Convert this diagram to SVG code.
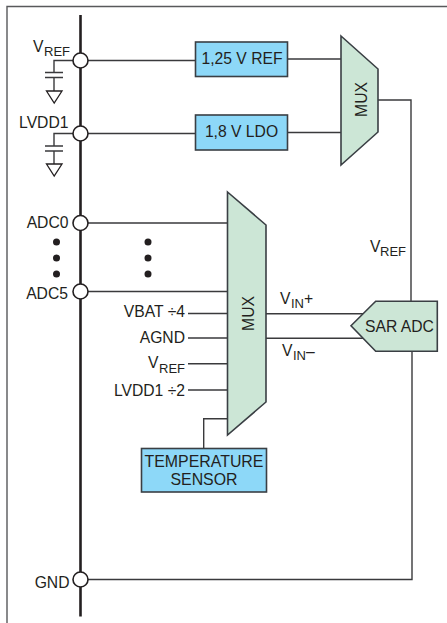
<svg xmlns="http://www.w3.org/2000/svg" width="447" height="623" viewBox="0 0 447 623">
<style>
text{font-family:"Liberation Sans",Arial,sans-serif;font-size:15.7px;fill:#231f20}
.e{text-anchor:end}.m{text-anchor:middle}
.sub{font-size:13px}
.big{font-size:15.9px}
.w{fill:none;stroke:#3a3a3c;stroke-width:1.4}
.blue{fill:#8dd8f8;stroke:#3a3f44;stroke-width:1.6}
.green{fill:#cce6d6;stroke:#3a3f44;stroke-width:1.6}
.pin{fill:#fff;stroke:#231f20;stroke-width:1.6}
.gnd{fill:#fff;stroke:#231f20;stroke-width:1.3}
</style>
<rect width="447" height="623" fill="#fff"/>
<path id="frame" d="M447 6.5H7V623" fill="none" stroke="#58595b" stroke-width="1.4"/>
<g id="connectors">
<path d="M80.5 15V616.5" fill="none" stroke="#231f20" stroke-width="2.6"/>
<path class="w" d="M80 60.5H195.5M80 133.5H195.5M287.5 59H341M287.5 132.5H341M378 100H411V301.5M80 223H227.5M80 291.5H227.5M188 313.5H227.5M188 338H227.5M188 363.7H227.5M188 390H227.5M266 313.7H364M266 338.3H364M80 579.5H412V351.5M203.7 448.5V418.7H227.5"/>
<path class="w" d="M73 60.5H54V72.5M45 72.5H63M45 77.5H63M54 77.5V91M73 133.5H54V146M45 146H63M45 151H63M54 151V164"/>
</g>
<g id="cap-vref"><path class="gnd" d="M46.5 91H62L54.2 103Z"/></g>
<g id="cap-lvdd1"><path class="gnd" d="M46.5 164H62L54.2 176Z"/></g>
<g id="pin-vref"><circle class="pin" cx="80.5" cy="60.5" r="7.5"/><text x="33" y="52">V</text><text class="sub" x="44" y="55.5">REF</text></g>
<g id="pin-lvdd1"><circle class="pin" cx="80.5" cy="133.5" r="7.5"/><text class="e" x="68.5" y="127.5">LVDD1</text></g>
<g id="pin-adc0"><circle class="pin" cx="80.5" cy="223" r="7.5"/><text class="e" x="68.5" y="228">ADC0</text></g>
<g id="pin-adc5"><circle class="pin" cx="80.5" cy="291.5" r="7.5"/><text class="e" x="68" y="299">ADC5</text></g>
<g id="pin-gnd"><circle class="pin" cx="80.5" cy="579.5" r="7.5"/><text class="e" x="69.5" y="587.5">GND</text></g>
<g id="dots" fill="#231f20"><circle cx="56.5" cy="242" r="3.5"/><circle cx="56.5" cy="258" r="3.5"/><circle cx="56.5" cy="274" r="3.5"/><circle cx="148" cy="242" r="3.5"/><circle cx="148" cy="258" r="3.5"/><circle cx="148" cy="274" r="3.5"/></g>
<g id="ref125"><rect class="blue" x="195.5" y="42" width="92" height="34.5"/><text class="m" x="242" y="64">1,25 V REF</text></g>
<g id="ldo18"><rect class="blue" x="195.5" y="115" width="92" height="35"/><text class="m" x="241.5" y="137">1,8 V LDO</text></g>
<g id="mux-top"><path class="green" d="M341 36L378 69V132L341 165Z"/><text class="m" transform="translate(366.5 99.5) rotate(-90)">MUX</text></g>
<g id="mux-main"><path class="green" d="M227.5 192L266 225V402L227.5 435Z"/><text class="m" transform="translate(254 313.5) rotate(-90)">MUX</text></g>
<g id="sar-adc"><path class="green" d="M351 325.7L375.7 301.3H437.3V351.3H375.7Z"/><text class="m" x="399.5" y="332">SAR ADC</text></g>
<g id="temp-sensor"><rect class="blue" x="141.5" y="448.5" width="125" height="43.5"/><text class="m big" x="204" y="466.7">TEMPERATURE</text><text class="m big" x="204" y="485">SENSOR</text></g>
<g id="labels">
<text class="e" x="185" y="317">VBAT ÷4</text>
<text class="e" x="185" y="343">AGND</text>
<text x="148" y="368">V</text><text class="sub" x="159" y="372.5">REF</text>
<text class="e" x="185" y="396">LVDD1 ÷2</text>
<text x="280" y="304">V</text><text class="sub" x="291" y="308">IN</text><text x="304" y="303.5">+</text>
<text x="282" y="356">V</text><text class="sub" x="293" y="360">IN</text><text x="306" y="356.5">–</text>
<text x="370" y="252">V</text><text class="sub" x="380" y="256">REF</text>
</g>
</svg>
